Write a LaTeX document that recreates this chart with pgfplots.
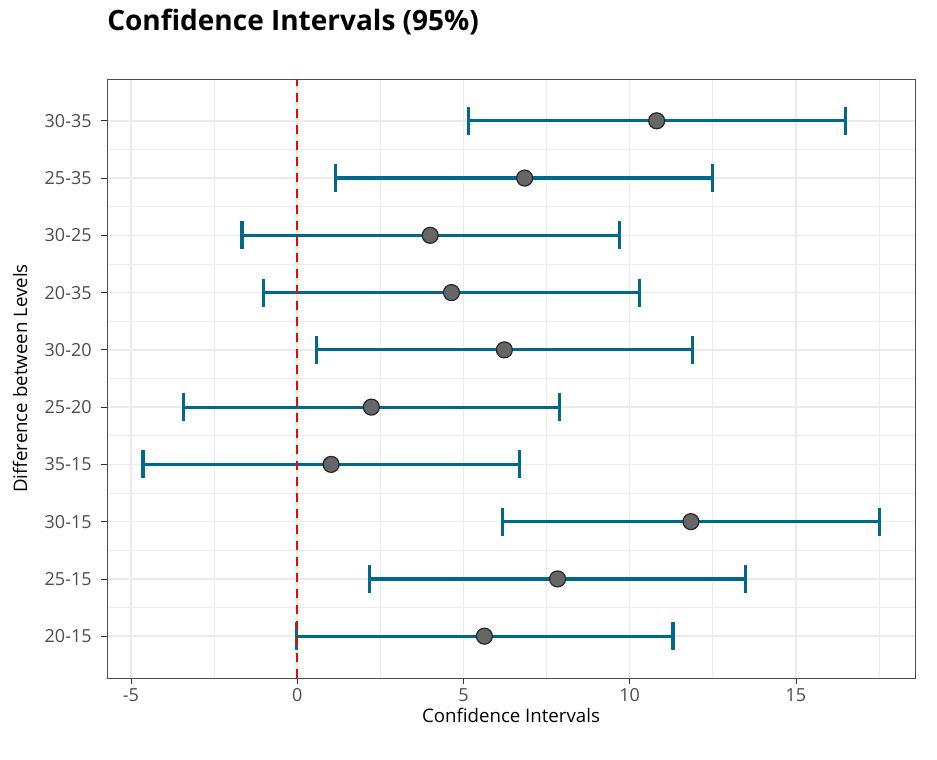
\documentclass[border=0pt]{standalone}
\usepackage{pgfplots}
\pgfplotsset{compat=1.18}
\usepackage{pgfplotstable}
\usepackage{fontspec}
\setmainfont{Open Sans}

\definecolor{barcol}{HTML}{00688B}
\definecolor{ptfill}{HTML}{666666}
\definecolor{gridcol}{HTML}{EBEBEB}
\definecolor{tickcol}{HTML}{4D4D4D}

% lower, estimate, upper for each comparison (y = row position)
\pgfplotstableread{
y  lo     est    hi
1  -0.03  5.63   11.30
2  2.17   7.83   13.49
3  6.17   11.84  17.50
4  -4.64  1.02   6.69
5  -3.43  2.23   7.89
6  0.57   6.23   11.90
7  -1.02  4.64   10.30
8  -1.66  4.00   9.70
9  1.14   6.84   12.50
10 5.15   10.81  16.50
}\citable

\begin{document}
\begin{tikzpicture}
\begin{axis}[
    at={(0,0)}, anchor=south west,
    scale only axis,
    width=606pt, height=449.25pt,
    xmin=-5.72, xmax=18.58,
    ymin=0.27, ymax=10.73,
    xtick={-5,0,5,10,15},
    xticklabels={-5,0,5,10,15},
    minor xtick={-2.5,2.5,7.5,12.5,17.5},
    ytick={1,...,10},
    yticklabels={20-15,25-15,30-15,35-15,25-20,30-20,20-35,30-25,25-35,30-35},
    minor ytick={1.5,2.5,3.5,4.5,5.5,6.5,7.5,8.5,9.5},
    xtick pos=bottom, ytick pos=left,
    grid=both,
    major grid style={gridcol, line width=1.1pt},
    minor grid style={gridcol, line width=0.55pt},
    tick align=outside,
    major tick length=4.5pt,
    minor tick length=0pt,
    tick style={black!80, line width=0.6pt},
    axis line style={black!70, line width=0.6pt},
    ticklabel style={font=\fontsize{13.5}{16}\selectfont, text=tickcol},
    yticklabel style={xshift=-3.5pt},
    xlabel={Confidence Intervals},
    ylabel={Difference between Levels},
    label style={font=\fontsize{14}{17}\selectfont},
    xlabel style={at={(axis description cs:0.5,-0.0751)}, anchor=base},
    ylabel style={at={(axis description cs:-0.1077,0.5)}, anchor=center},
    title={\textbf{Confidence Intervals (95\%)}},
    title style={at={(axis description cs:0,1.0668)}, anchor=base west,
                 inner sep=0pt, font=\fontsize{21}{25}\selectfont},
    clip=true,
]
% error bars
\addplot[forget plot, draw=none, mark=none,
    error bars/.cd,
    x dir=both, x explicit,
    error mark=|,
    error bar style={draw=barcol, line width=2.4pt},
    error mark options={draw=barcol, line width=2.4pt, mark size=10.5pt},
] table[x=est, y=y,
        x error plus expr=\thisrow{hi}-\thisrow{est},
        x error minus expr=\thisrow{est}-\thisrow{lo}] {\citable};
% point estimates
\addplot[only marks, mark=*, mark size=6pt,
    mark options={fill=ptfill, draw=black!85, line width=0.9pt}]
    table[x=est, y=y] {\citable};
% reference line at zero
\addplot[red, line width=1.5pt, dash pattern=on 7pt off 5pt]
    coordinates {(0,0.27) (0,10.73)};
\end{axis}
\pgfresetboundingbox
\path (-80.25pt,-60.75pt) rectangle (622.5pt,508.5pt);
\end{tikzpicture}
\end{document}
